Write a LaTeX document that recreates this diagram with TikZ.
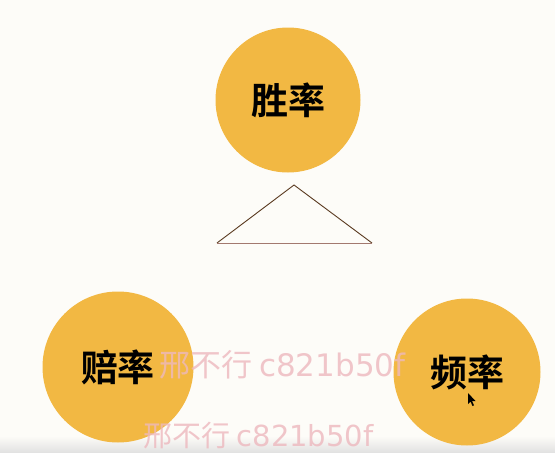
\documentclass[tikz,border=0pt]{standalone}
\usepackage{fontspec}
\newfontfamily\cjk{Noto Sans CJK SC}[BoldFont={* Bold}]
\newfontfamily\wmlatin{DejaVu Sans}
\usetikzlibrary{calc}
\definecolor{bgc}{HTML}{FDFCF8}
\definecolor{ballc}{HTML}{F2B843}
\definecolor{edgec}{HTML}{5A3A20}
\definecolor{wmc}{HTML}{EDB8BE}
\tikzset{
  ball/.style={circle, fill=ballc, minimum size=#1, inner sep=0pt, font=\cjk\bfseries\fontsize{37}{37}\selectfont, text=black},
  wm/.style={font=\cjk\fontsize{#1}{#1}\selectfont, text=wmc, opacity=0.8, anchor=base west, inner sep=0pt}
}
\begin{document}
\begin{tikzpicture}[x=1pt,y=-1pt]
\useasboundingbox (0,0) rectangle (555,453);
\fill[bgc] (0,0) rectangle (555,453);
\shade[top color=bgc, bottom color=black!12] (0,436) rectangle (555,453);
\node[ball=145pt] (win) at (288,100) {胜率};
\node[ball=151pt] (odds) at (118,367) {赔率};
\node[ball=147pt] (freq) at (467,372) {频率};
\coordinate (ta) at (294,185);
\coordinate (tl) at (217,243);
\coordinate (tr) at (372,243);
\draw[edgec, line width=0.9pt, line join=miter] (tl) -- (ta) -- (tr);
\draw[edgec!50!wmc, line width=0.9pt] (tl) -- (tr);
\node[wm=31] (wm1) at (159,376) {邢不行 {\wmlatin c821b50f}};
\node[wm=29] (wm2) at (143,446) {邢不行 {\wmlatin c821b50f}};
\fill[black] (468,393) -- (468,404) -- (470.5,401.5) -- (472.5,406) -- (474,405.3) -- (472,401) -- (475.5,401) -- cycle;
\end{tikzpicture}
\end{document}
